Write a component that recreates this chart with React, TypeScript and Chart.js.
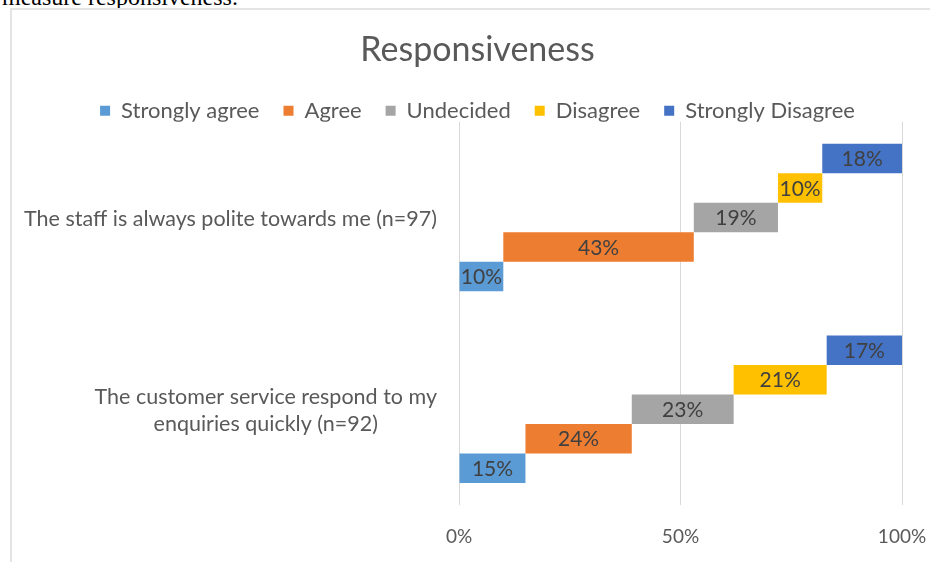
import React, { useEffect, useRef } from 'react';
import { Chart, registerables } from 'chart.js';

Chart.register(...registerables);

// ---- data ----
const categories: string[][] = [
  ['The staff is always polite towards me (n=97)'],
  ['The customer service respond to my', 'enquiries quickly (n=92)'],
];
const seriesNames = ['Strongly agree', 'Agree', 'Undecided', 'Disagree', 'Strongly Disagree'];
const stronglyAgree = [10, 15];
const agree = [43, 24];
const undecided = [19, 23];
const disagree = [10, 21];
const stronglyDisagree = [18, 17];
const xTickValues = [0, 50, 100];

// ---- styles ----
const seriesColors = ['#5B9BD5', '#ED7D31', '#A5A5A5', '#FFC000', '#4472C4'];
const FONT = 'Lato';
const TEXT = '#595959';

const seriesValues = [stronglyAgree, agree, undecided, disagree, stronglyDisagree];

function buildDatasets() {
  const ds = seriesValues.map((vals, s) => ({
    label: seriesNames[s],
    data: vals.map((v, i) => {
      let start = 0;
      for (let k = 0; k < s; k++) start += seriesValues[k][i];
      return [start, start + v];
    }),
    pctValues: vals,
    backgroundColor: seriesColors[s],
    borderWidth: 0,
    categoryPercentage: 0.77,
    barPercentage: 1,
  }));
  return ds.reverse();
}

const legendFitPlugin = {
  id: 'legendFit',
  beforeLayout(chart: any) {
    const lg = chart.legend;
    if (lg && !lg._patchedFit) {
      const orig = lg.fit;
      lg.fit = function () {
        orig.call(this);
        this.height = 46;
      };
      lg._patchedFit = true;
    }
  },
};

const yLabelPlugin = {
  id: 'yLabels',
  afterDraw(chart: any) {
    const ctx = chart.ctx;
    const yScale = chart.scales.y;
    ctx.save();
    ctx.font = `21.5px ${FONT}`;
    ctx.fillStyle = TEXT;
    ctx.textBaseline = 'middle';
    ctx.textAlign = 'center';
    const right = yScale.right - 22;
    const lh = 27;
    categories.forEach((lines, i) => {
      const yc = yScale.getPixelForValue(i) + 1;
      const maxW = Math.max(...lines.map((l) => ctx.measureText(l).width));
      lines.forEach((l, j) => {
        const y = yc + (j - (lines.length - 1) / 2) * lh;
        ctx.fillText(l, right - maxW / 2, y);
      });
    });
    ctx.restore();
  },
};

const dataLabelPlugin = {
  id: 'dataLabels',
  afterDatasetsDraw(chart: any) {
    const ctx = chart.ctx;
    ctx.save();
    ctx.font = `21px ${FONT}`;
    ctx.fillStyle = '#404040';
    ctx.textAlign = 'center';
    ctx.textBaseline = 'middle';
    chart.data.datasets.forEach((ds: any, di: number) => {
      const meta = chart.getDatasetMeta(di);
      meta.data.forEach((el: any, i: number) => {
        const cx = (el.x + el.base) / 2;
        ctx.fillText(`${ds.pctValues[i]}%`, cx, el.y + 1);
      });
    });
    ctx.restore();
  },
};

function ResponsivenessChart() {
  const ref = useRef<HTMLCanvasElement | null>(null);
  useEffect(() => {
    if (!ref.current) return;
    const chart = new Chart(ref.current, {
      type: 'bar',
      data: {
        labels: categories,
        datasets: buildDatasets() as any,
      },
      options: {
        animation: false,
        responsive: true,
        maintainAspectRatio: false,
        indexAxis: 'y',
        layout: { padding: { left: 36, right: 11, top: 0, bottom: 0 } },
        plugins: {
          title: {
            display: true,
            text: 'Responsiveness',
            color: TEXT,
            font: { family: FONT, size: 34, weight: 'normal' },
            padding: { top: 30, bottom: 5 },
          },
          legend: {
            display: true,
            reverse: true,
            labels: {
              boxWidth: 10,
              boxHeight: 10,
              padding: 24,
              color: TEXT,
              font: { family: FONT, size: 22 },
            },
          },
          tooltip: { enabled: false },
        },
        scales: {
          x: {
            type: 'linear',
            min: 0,
            max: 100,
            afterBuildTicks: (scale: any) => {
              scale.ticks = xTickValues.map((v) => ({ value: v }));
            },
            afterFit: (scale: any) => {
              scale.height = 57;
              scale.paddingRight = 28;
              scale.paddingLeft = 0;
            },
            grid: { color: '#D9D9D9', drawTicks: false, lineWidth: 1 },
            border: { display: false },
            ticks: {
              padding: 20,
              color: TEXT,
              font: { family: FONT, size: 19 },
              callback: (v: any) => `${v}%`,
            },
          },
          y: {
            type: 'category',
            afterFit: (scale: any) => {
              scale.width = 423;
            },
            grid: { display: false },
            border: { display: false },
            ticks: { display: false },
          },
        },
      } as any,
      plugins: [legendFitPlugin, yLabelPlugin, dataLabelPlugin],
    });
    return () => chart.destroy();
  }, []);
  return <canvas ref={ref} />;
}

export default function App() {
  return (
    <div
      style={{
        position: 'fixed',
        left: 0,
        top: 0,
        width: 930,
        height: 562,
        overflow: 'hidden',
        background: '#ffffff',
      }}
    >
      <div
        style={{
          position: 'absolute',
          left: 2,
          top: -15,
          fontFamily: '"Liberation Serif", serif',
          fontSize: 24,
          lineHeight: '24px',
          color: '#000',
          whiteSpace: 'nowrap',
        }}
      >
        measure responsiveness.
      </div>
      <div
        style={{
          position: 'absolute',
          left: 10,
          top: 8,
          width: 940,
          height: 600,
          borderLeft: '2px solid #E4E4E4',
          borderTop: '2px solid #E4E4E4',
          background: '#ffffff',
        }}
      />
      <div style={{ position: 'absolute', left: 0, top: 0, width: 930, height: 562 }}>
        <ResponsivenessChart />
      </div>
    </div>
  );
}
